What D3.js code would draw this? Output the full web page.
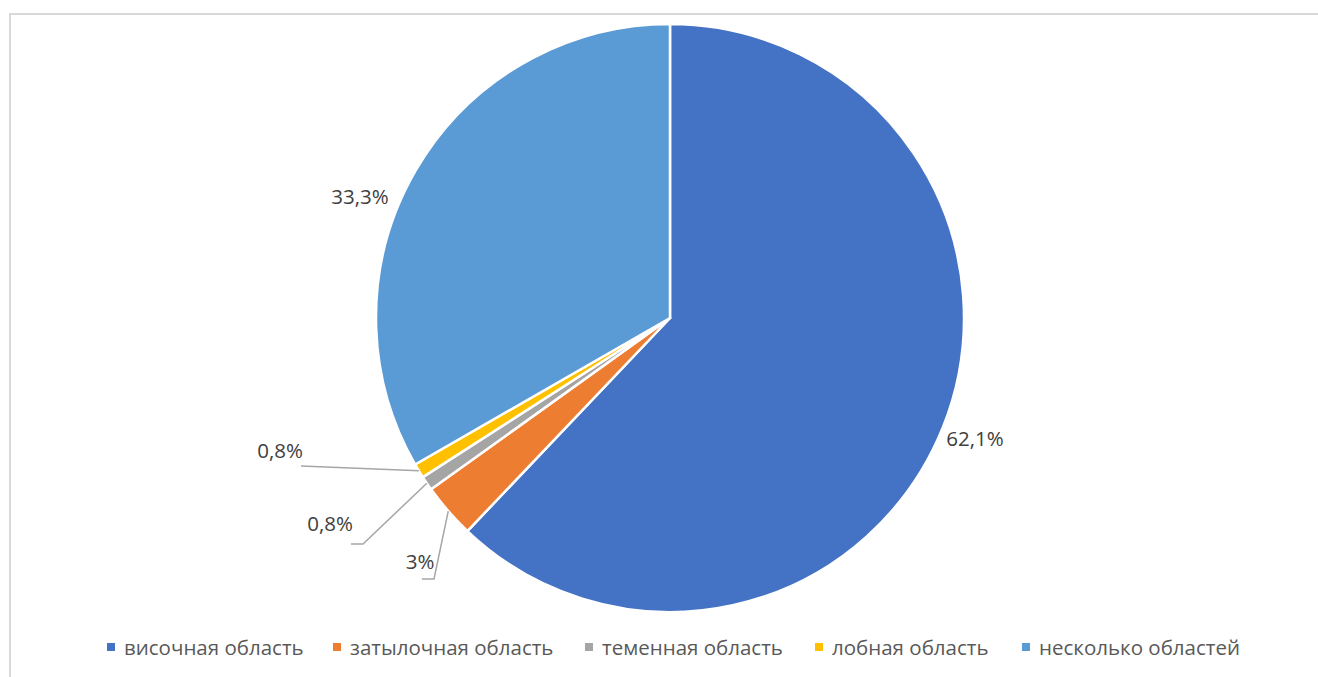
<!DOCTYPE html>
<html lang="ru">
<head>
<meta charset="utf-8">
<script src="https://cdn.jsdelivr.net/npm/d3@7"></script>
<style>
  html, body { margin: 0; padding: 0; background: #fff; }
  svg { display: block; }
  text { font-family: "Open Sans", "Noto Sans", sans-serif; }
</style>
</head>
<body>
<svg id="chart" width="1318" height="677"></svg>
<script>
// Распределение по областям поражения, %
const categories = ["височная область", "затылочная область", "теменная область", "лобная область", "несколько областей"];
const shares = [62.1, 3, 0.8, 0.8, 33.3];
const shareLabels = ["62,1%", "3%", "0,8%", "0,8%", "33,3%"];
const colors = ["#4472C4", "#ED7D31", "#A5A5A5", "#FFC000", "#5B9BD5"];

const W = 1318, H = 677;
const cx = 670, cy = 318, R = 294;

const svg = d3.select("#chart");

// Рамка области диаграммы
svg.append("rect")
  .attr("x", 10).attr("y", 14)
  .attr("width", W + 20).attr("height", H + 20)
  .attr("fill", "none")
  .attr("stroke", "#d9d9d9")
  .attr("stroke-width", 2);

const data = categories.map((c, i) => ({ name: c, value: shares[i], label: shareLabels[i], color: colors[i] }));

const pie = d3.pie().sort(null).value(d => d.value);
const arcs = pie(data);
const arc = d3.arc().innerRadius(0).outerRadius(R);

const g = svg.append("g").attr("transform", `translate(${cx},${cy})`);

g.selectAll("path.slice")
  .data(arcs)
  .join("path")
  .attr("class", "slice")
  .attr("d", arc)
  .attr("fill", d => d.data.color)
  .attr("stroke", "#fff")
  .attr("stroke-width", 2.5)
  .attr("stroke-linejoin", "round");

// Расположение подписей: pos — центр подписи относительно центра круга,
// elbow/end — точки выноски у малых секторов
const labelLayout = [
  { pos: [305, 120] },
  { pos: [-250, 243], elbow: [-236, 261], end: [-248, 261] },
  { pos: [-340, 205], elbow: [-307, 226], end: [-319, 226] },
  { pos: [-390, 132], end: [-369, 148] },
  { pos: [-310, -122] }
];

const pointOnArc = (a, r) => [r * Math.sin(a), -r * Math.cos(a)];

arcs.forEach((d, i) => {
  const L = labelLayout[i];
  if (L.end) {
    const mid = (d.startAngle + d.endAngle) / 2;
    const pts = [pointOnArc(mid, R)];
    if (L.elbow) pts.push(L.elbow);
    pts.push(L.end);
    g.append("path")
      .attr("d", d3.line()(pts))
      .attr("fill", "none")
      .attr("stroke", "#A6A6A6")
      .attr("stroke-width", 1.5);
  }
  g.append("text")
    .attr("x", L.pos[0])
    .attr("y", L.pos[1])
    .attr("text-anchor", "middle")
    .attr("dominant-baseline", "central")
    .attr("font-size", 20.5)
    .attr("fill", "#404040")
    .text(d.data.label);
});

// Легенда
const legendX = [107, 333, 585, 815, 1022];
const legendY = 647;
const legend = svg.append("g");
data.forEach((d, i) => {
  const item = legend.append("g").attr("transform", `translate(${legendX[i]},${legendY})`);
  item.append("rect")
    .attr("x", 0).attr("y", -4)
    .attr("width", 8).attr("height", 8)
    .attr("fill", d.color);
  item.append("text")
    .attr("x", 17).attr("y", 0)
    .attr("dominant-baseline", "central")
    .attr("font-size", 20.5)
    .attr("fill", "#595959")
    .text(d.name);
});
</script>
</body>
</html>
